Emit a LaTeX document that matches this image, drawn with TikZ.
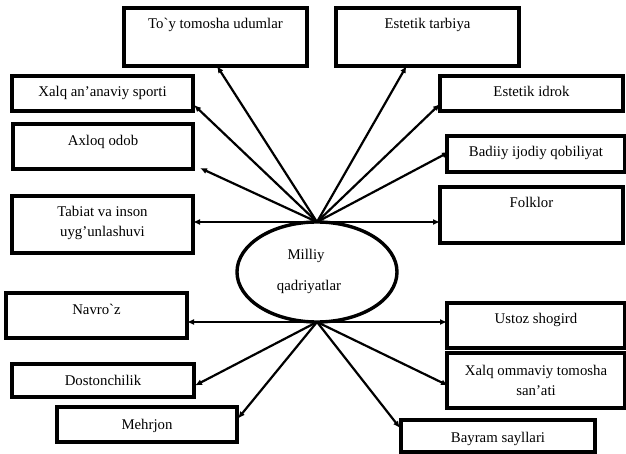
\documentclass[tikz,border=0pt]{standalone}
\usepackage{fontspec}
\newfontfamily\tfont{Liberation Serif}
\usetikzlibrary{arrows.meta,calc,shapes.geometric}
\begin{document}
\begin{tikzpicture}[x=1pt,y=-1pt,
  box/.style={draw, line width=3.2pt, rectangle, inner sep=0pt, outer sep=0pt},
  txt/.style={font=\tfont\fontsize{14.8}{18}\selectfont, anchor=base, inner sep=0pt},
  arr/.style={line width=2.2pt, -{Latex[length=7pt,width=6pt]}}]
\useasboundingbox (0,0) rectangle (626,454);
% boxes
\node[box, minimum width=183pt, minimum height=58pt] (toy) at (215.5,37) {};
\node[box, minimum width=183pt, minimum height=58pt] (tarbiya) at (427.5,37) {};
\node[box, minimum width=181pt, minimum height=35pt] (sport) at (102.5,93.5) {};
\node[box, minimum width=183pt, minimum height=35pt] (idrok) at (531.5,93.5) {};
\node[box, minimum width=180pt, minimum height=45pt] (axloq) at (103,146.5) {};
\node[box, minimum width=178pt, minimum height=36pt] (badiiy) at (536,154) {};
\node[box, minimum width=181pt, minimum height=57pt] (tabiat) at (102.5,224.5) {};
\node[box, minimum width=183pt, minimum height=56pt] (folklor) at (531.5,215) {};
\node[box, minimum width=181pt, minimum height=45pt] (navroz) at (96.5,315.5) {};
\node[box, minimum width=178pt, minimum height=45pt] (ustoz) at (536,325.5) {};
\node[box, minimum width=182pt, minimum height=33pt] (doston) at (103,380.5) {};
\node[box, minimum width=178pt, minimum height=55pt] (ommaviy) at (536,380.5) {};
\node[box, minimum width=180pt, minimum height=35pt] (mehrjon) at (147,424.5) {};
\node[box, minimum width=194pt, minimum height=32pt] (bayram) at (498,436) {};
% centre
\node[draw, ellipse, line width=3.4pt, minimum width=160pt, minimum height=100pt, inner sep=0pt, outer sep=0pt] (ell) at (317,272) {};
% texts
\node[txt] (t1) at (toy.north |- 0,29) {To`y tomosha udumlar};
\node[txt] (t2) at (tarbiya.north |- 0,29) {Estetik tarbiya};
\node[txt] (t3) at (sport.north |- 0,97) {Xalq an’anaviy sporti};
\node[txt] (t4) at (idrok.north |- 0,97) {Estetik idrok};
\node[txt] (t5) at (axloq.north |- 0,146) {Axloq odob};
\node[txt] (t6) at (badiiy.north |- 0,157) {Badiiy ijodiy qobiliyat};
\node[txt] (t7a) at (tabiat.north |- 0,217) {Tabiat va inson};
\node[txt] (t7b) at (tabiat.north |- 0,237) {uyg’unlashuvi};
\node[txt] (t8) at (folklor.north |- 0,208) {Folklor};
\node[txt] (c1) at (306,259) {Milliy};
\node[txt] (c2) at (309,290) {qadriyatlar};
\node[txt] (t9) at (navroz.north |- 0,314) {Navro`z};
\node[txt] (t10) at (ustoz.north |- 0,323) {Ustoz shogird};
\node[txt] (t11) at (doston.north |- 0,385) {Dostonchilik};
\node[txt] (t12a) at (ommaviy.north |- 0,375) {Xalq ommaviy tomosha};
\node[txt] (t12b) at (ommaviy.north |- 0,395) {san’ati};
\node[txt] (t13) at (mehrjon.north |- 0,429) {Mehrjon};
\node[txt] (t14) at (bayram.north |- 0,442) {Bayram sayllari};
% arrows from top
\draw[arr] (ell.north) -- ($(toy.south)+(1.5,0)$);
\draw[arr] (ell.north) -- ($(sport.south east)+(1,-6)$);
\draw[arr] (ell.north) -- ($(axloq.south east)+(7,-1)$);
\draw[arr] (ell.north) -- (tabiat.east |- ell.north);
\draw[arr] (ell.north) -- ($(tarbiya.south)+(-21,0)$);
\draw[arr] (ell.north) -- ($(idrok.south west)+(0,-7)$);
\draw[arr] (ell.north) -- ($(badiiy.west)+(2,-2)$);
\draw[arr] (ell.north) -- (folklor.west |- ell.north);
% arrows from bottom
\draw[arr] (ell.south) -- (navroz.east |- ell.south);
\draw[arr] (ell.south) -- ($(doston.east)+(1,5)$);
\draw[arr] (ell.south) -- ($(mehrjon.east)+(1,-6)$);
\draw[arr] (ell.south) -- (ustoz.west |- ell.south);
\draw[arr] (ell.south) -- ($(ommaviy.west)+(1,5)$);
\draw[arr] (ell.south) -- ($(bayram.north west)+(-1,8)$);
\end{tikzpicture}
\end{document}
